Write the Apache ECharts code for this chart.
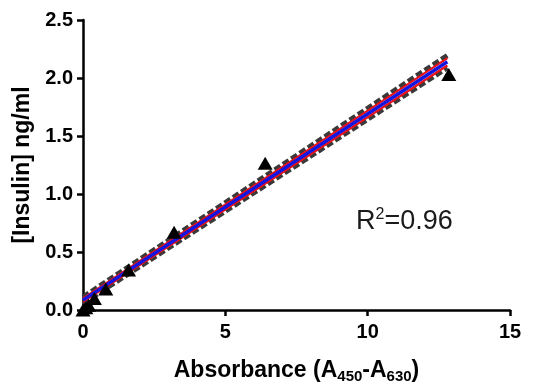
<!DOCTYPE html>
<html><head><meta charset="utf-8">
<script src="https://cdn.jsdelivr.net/npm/echarts@6/dist/echarts.min.js"></script>
<style>html,body{margin:0;padding:0;background:#fff}#c{width:540px;height:389px}</style>
</head><body><div id="c"></div>
<script>
var absorbance = [0, 0.1, 0.2, 0.4, 0.8, 1.6, 3.2, 6.4, 12.85];
var insulin = [0.0, 0.02, 0.04, 0.1, 0.18, 0.345, 0.67, 1.265, 2.03];
var fitX = [0, 12.8];
var fitY = [0.085, 2.14];
var upperCI = [0.1, 2.172];
var lowerCI = [0.07, 2.108];
var upperBand = [0.112, 2.195];
var lowerBand = [0.058, 2.088];
var xTicks = [0, 5, 10, 15];
var yTicks = [0, 0.5, 1.0, 1.5, 2.0, 2.5];

function pairs(xs, ys){ return xs.map(function(x,i){return [x, ys[i]];}); }
var chart = echarts.init(document.getElementById('c'));
var font = 'Liberation Sans, Arial, sans-serif';
chart.setOption({
  animation: false,
  grid: {left: 83, right: 30, top: 20, bottom: 76},
  xAxis: {
    type: 'value', min: xTicks[0], max: xTicks[xTicks.length-1], interval: 5,
    axisLine: {lineStyle: {color: '#000', width: 2.5}},
    axisTick: {show: true, length: 6, lineStyle: {color: '#000', width: 2.5}},
    splitLine: {show: false},
    axisLabel: {color: '#000', fontFamily: font, fontWeight: 'bold', fontSize: 20, margin: 12},
    name: 'Absorbance (A{s|450}-A{s|630})',
    nameLocation: 'middle', nameGap: 47,
    nameTextStyle: {color: '#000', fontFamily: font, fontWeight: 'bold', fontSize: 23,
      rich: {s: {fontSize: 15, fontWeight: 'bold', fontFamily: font, color: '#000', verticalAlign: 'bottom', padding: [12,0,0,0]}}}
  },
  yAxis: {
    type: 'value', min: yTicks[0], max: yTicks[yTicks.length-1], interval: 0.5,
    axisLine: {show: true, lineStyle: {color: '#000', width: 2.5}},
    axisTick: {show: true, length: 6, lineStyle: {color: '#000', width: 2.5}},
    splitLine: {show: false},
    axisLabel: {color: '#000', fontFamily: font, fontWeight: 'bold', fontSize: 20, margin: 10,
      formatter: function(v){return v.toFixed(1);}},
    name: '[Insulin] ng/ml', nameLocation: 'middle', nameGap: 49, nameRotate: 90,
    nameTextStyle: {color: '#000', fontFamily: font, fontWeight: 'bold', fontSize: 23}
  },
  graphic: [{
    type: 'text', left: 356, top: 207,
    style: {text: 'R{sup|2}=0.96', fontFamily: font, fontSize: 27, fill: '#1a1a1a',
      rich: {sup: {fontSize: 16, fontFamily: font, fill: '#1a1a1a', verticalAlign: 'top', padding: [0,0,14,0]}}}
  }],
  series: [
    {type: 'line', data: pairs(fitX, upperBand), symbol: 'none', silent: true,
      lineStyle: {color: '#3a3a3a', width: 5, type: [7, 3]}},
    {type: 'line', data: pairs(fitX, lowerBand), symbol: 'none', silent: true,
      lineStyle: {color: '#3a3a3a', width: 5, type: [7, 3]}},
    {type: 'line', data: pairs(fitX, upperCI), symbol: 'none', silent: true,
      lineStyle: {color: '#e8101a', width: 2.2}},
    {type: 'line', data: pairs(fitX, lowerCI), symbol: 'none', silent: true,
      lineStyle: {color: '#e8101a', width: 2.2}},
    {type: 'line', data: pairs(fitX, fitY), symbol: 'none', silent: true,
      lineStyle: {color: '#1515e0', width: 3.5}},
    {type: 'scatter', data: pairs(absorbance, insulin), symbol: 'triangle', symbolSize: [15, 13],
      itemStyle: {color: '#000', opacity: 1}, z: 5}
  ]
});
</script></body></html>
